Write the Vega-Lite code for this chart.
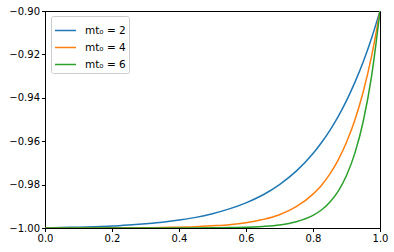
{
  "$schema": "https://vega.github.io/schema/vega-lite/v6.json",
  "width": 335,
  "height": 217,
  "autosize": {"type": "none"},
  "padding": {"left": 45, "top": 11, "right": 14, "bottom": 24},
  "background": "white",
  "config": {
    "font": "DejaVu Sans",
    "view": {"stroke": "black", "strokeWidth": 1},
    "axis": {
      "grid": false,
      "domainColor": "black",
      "tickColor": "black",
      "tickSize": 3.5,
      "labelFontSize": 10,
      "labelColor": "black",
      "labelPadding": 2,
      "labelFlush": false,
      "title": null
    }
  },
  "data": {
    "values": [
      {"x": 0, "y": -1.0, "s": "mt₀ = 2"},
      {"x": 0.05, "y": -0.9998, "s": "mt₀ = 2"},
      {"x": 0.1, "y": -0.9996, "s": "mt₀ = 2"},
      {"x": 0.15, "y": -0.9994, "s": "mt₀ = 2"},
      {"x": 0.2, "y": -0.9991, "s": "mt₀ = 2"},
      {"x": 0.25, "y": -0.9986, "s": "mt₀ = 2"},
      {"x": 0.3, "y": -0.9980, "s": "mt₀ = 2"},
      {"x": 0.35, "y": -0.9973, "s": "mt₀ = 2"},
      {"x": 0.4, "y": -0.9963, "s": "mt₀ = 2"},
      {"x": 0.45, "y": -0.9951, "s": "mt₀ = 2"},
      {"x": 0.5, "y": -0.9934, "s": "mt₀ = 2"},
      {"x": 0.55, "y": -0.9912, "s": "mt₀ = 2"},
      {"x": 0.6, "y": -0.9884, "s": "mt₀ = 2"},
      {"x": 0.65, "y": -0.9848, "s": "mt₀ = 2"},
      {"x": 0.7, "y": -0.9800, "s": "mt₀ = 2"},
      {"x": 0.75, "y": -0.9738, "s": "mt₀ = 2"},
      {"x": 0.8, "y": -0.9657, "s": "mt₀ = 2"},
      {"x": 0.825, "y": -0.9607, "s": "mt₀ = 2"},
      {"x": 0.85, "y": -0.9551, "s": "mt₀ = 2"},
      {"x": 0.875, "y": -0.9487, "s": "mt₀ = 2"},
      {"x": 0.9, "y": -0.9413, "s": "mt₀ = 2"},
      {"x": 0.925, "y": -0.9329, "s": "mt₀ = 2"},
      {"x": 0.95, "y": -0.9234, "s": "mt₀ = 2"},
      {"x": 0.975, "y": -0.9124, "s": "mt₀ = 2"},
      {"x": 1, "y": -0.9, "s": "mt₀ = 2"},
      {"x": 0, "y": -1.0, "s": "mt₀ = 4"},
      {"x": 0.1, "y": -1.0, "s": "mt₀ = 4"},
      {"x": 0.2, "y": -0.9999, "s": "mt₀ = 4"},
      {"x": 0.3, "y": -0.9999, "s": "mt₀ = 4"},
      {"x": 0.35, "y": -0.9998, "s": "mt₀ = 4"},
      {"x": 0.4, "y": -0.9996, "s": "mt₀ = 4"},
      {"x": 0.45, "y": -0.9994, "s": "mt₀ = 4"},
      {"x": 0.5, "y": -0.9990, "s": "mt₀ = 4"},
      {"x": 0.55, "y": -0.9985, "s": "mt₀ = 4"},
      {"x": 0.6, "y": -0.9976, "s": "mt₀ = 4"},
      {"x": 0.65, "y": -0.9961, "s": "mt₀ = 4"},
      {"x": 0.7, "y": -0.9939, "s": "mt₀ = 4"},
      {"x": 0.75, "y": -0.9902, "s": "mt₀ = 4"},
      {"x": 0.8, "y": -0.9844, "s": "mt₀ = 4"},
      {"x": 0.825, "y": -0.9804, "s": "mt₀ = 4"},
      {"x": 0.85, "y": -0.9752, "s": "mt₀ = 4"},
      {"x": 0.875, "y": -0.9687, "s": "mt₀ = 4"},
      {"x": 0.9, "y": -0.9605, "s": "mt₀ = 4"},
      {"x": 0.925, "y": -0.9502, "s": "mt₀ = 4"},
      {"x": 0.95, "y": -0.9372, "s": "mt₀ = 4"},
      {"x": 0.975, "y": -0.9207, "s": "mt₀ = 4"},
      {"x": 1, "y": -0.9, "s": "mt₀ = 4"},
      {"x": 0, "y": -1.0, "s": "mt₀ = 6"},
      {"x": 0.2, "y": -1.0, "s": "mt₀ = 6"},
      {"x": 0.4, "y": -1.0, "s": "mt₀ = 6"},
      {"x": 0.5, "y": -0.9999, "s": "mt₀ = 6"},
      {"x": 0.55, "y": -0.9998, "s": "mt₀ = 6"},
      {"x": 0.6, "y": -0.9997, "s": "mt₀ = 6"},
      {"x": 0.65, "y": -0.9993, "s": "mt₀ = 6"},
      {"x": 0.7, "y": -0.9986, "s": "mt₀ = 6"},
      {"x": 0.75, "y": -0.9971, "s": "mt₀ = 6"},
      {"x": 0.8, "y": -0.9942, "s": "mt₀ = 6"},
      {"x": 0.825, "y": -0.9917, "s": "mt₀ = 6"},
      {"x": 0.85, "y": -0.9881, "s": "mt₀ = 6"},
      {"x": 0.875, "y": -0.9831, "s": "mt₀ = 6"},
      {"x": 0.9, "y": -0.9758, "s": "mt₀ = 6"},
      {"x": 0.925, "y": -0.9655, "s": "mt₀ = 6"},
      {"x": 0.95, "y": -0.9508, "s": "mt₀ = 6"},
      {"x": 0.975, "y": -0.9299, "s": "mt₀ = 6"},
      {"x": 1, "y": -0.9, "s": "mt₀ = 6"}
    ]
  },
  "mark": {"type": "line", "strokeWidth": 1.5, "interpolate": "monotone", "clip": true},
  "encoding": {
    "x": {
      "field": "x", "type": "quantitative",
      "scale": {"domain": [0, 1], "nice": false, "zero": false},
      "axis": {"values": [0, 0.2, 0.4, 0.6, 0.8, 1.0], "format": ".1f"}
    },
    "y": {
      "field": "y", "type": "quantitative",
      "scale": {"domain": [-1.0, -0.9], "nice": false, "zero": false},
      "axis": {"values": [-1.0, -0.98, -0.96, -0.94, -0.92, -0.9], "format": ".2f"}
    },
    "color": {
      "field": "s", "type": "nominal",
      "scale": {"domain": ["mt₀ = 2", "mt₀ = 4", "mt₀ = 6"], "range": ["#1f77b4", "#ff7f0e", "#2ca02c"]},
      "legend": {
        "title": null,
        "orient": "none",
        "legendX": 6,
        "legendY": 5,
        "direction": "vertical",
        "symbolType": "stroke",
        "symbolSize": 441,
        "symbolStrokeWidth": 1.5,
        "labelFontSize": 10.5,
        "labelColor": "black",
        "labelOffset": 8,
        "rowPadding": 0,
        "padding": 3,
        "strokeColor": "#cccccc",
        "fillColor": "white",
        "cornerRadius": 2
      }
    }
  }
}
